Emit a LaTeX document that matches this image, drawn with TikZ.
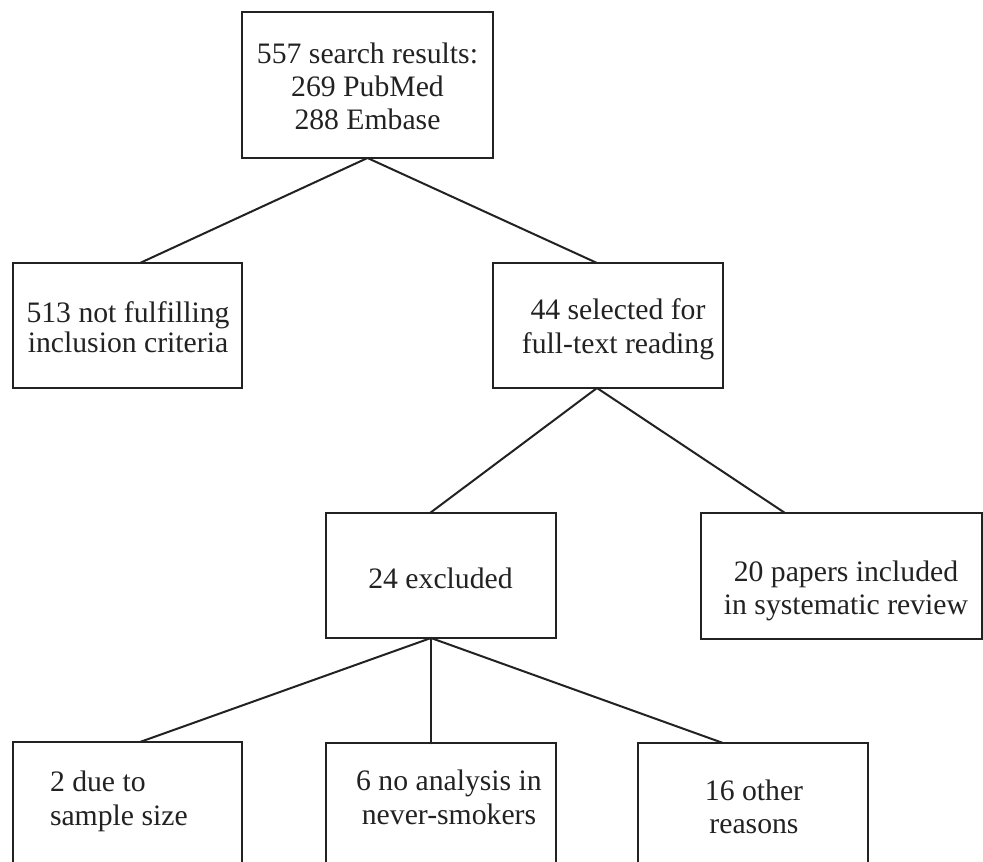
\documentclass[tikz,border=0pt]{standalone}
\usepackage{fontspec}
\setmainfont{Liberation Serif}
\definecolor{ink}{HTML}{222222}
\tikzset{
  box/.style={draw=ink, line width=2pt, inner sep=0pt, outer sep=0pt},
  txt/.style={inner sep=0pt, outer sep=0pt, align=center, text=ink,
              font=\fontsize{29.7}{33}\selectfont},
  link/.style={draw=ink, line width=2pt, line cap=round}
}
\begin{document}
\begin{tikzpicture}[x=1pt,y=-1pt]
\useasboundingbox (0,0) rectangle (983,862);
\clip (0,0) rectangle (983,862);
% boxes
\node[box, minimum width=251pt, minimum height=146pt] (b1) at (367.5,85) {};
\node[box, minimum width=229pt, minimum height=125pt] (b2) at (127.5,325.5) {};
\node[box, minimum width=230pt, minimum height=125pt] (b3) at (608,325.5) {};
\node[box, minimum width=230pt, minimum height=125pt] (b4) at (441,575.5) {};
\node[box, minimum width=281pt, minimum height=126pt] (b5) at (841.5,576) {};
\node[box, minimum width=229pt, minimum height=158pt] (b6) at (127.5,821) {};
\node[box, minimum width=230pt, minimum height=158pt] (b7) at (441,822) {};
\node[box, minimum width=230pt, minimum height=158pt] (b8) at (753,822) {};
% texts
\node[txt] (t1) at (367.5,86.5) {557 search results:\\269 PubMed\\288 Embase};
\node[txt, font=\fontsize{29.7}{30}\selectfont] (t2) at (128,327) {513 not fulfilling\\inclusion criteria};
\node[txt, font=\fontsize{29.7}{34}\selectfont] (t3) at (618,329) {44 selected for\\full-text reading};
\node[txt] (t4) at (440.5,578) {24 excluded};
\node[txt] (t5) at (846,590.5) {20 papers included\\in systematic review};
\node[txt, align=left, anchor=west, font=\fontsize{29.7}{34}\selectfont] (t6) at (50,801) {2 due to\\sample size};
\node[txt, font=\fontsize{29.7}{34}\selectfont] (t7) at (449,797) {6 no analysis in\\never-smokers};
\node[txt] (t8) at (754,806.5) {16 other\\reasons};
% connectors
\draw[link] (b1.south) -- ([xshift=127pt]b2.north west);
\draw[link] (b1.south) -- ([xshift=104pt]b3.north west);
\draw[link] ([xshift=-11pt]b3.south) -- ([xshift=-11pt]b4.north);
\draw[link] ([xshift=-11pt]b3.south) -- ([xshift=84pt]b5.north west);
\draw[link] ([xshift=-10pt]b4.south) -- ([xshift=127pt]b6.north west);
\draw[link, line width=2.6pt] ([xshift=-10pt]b4.south) -- ([xshift=-10pt]b7.north);
\draw[link] ([xshift=-10pt]b4.south) -- ([xshift=85pt]b8.north west);
\end{tikzpicture}
\end{document}
